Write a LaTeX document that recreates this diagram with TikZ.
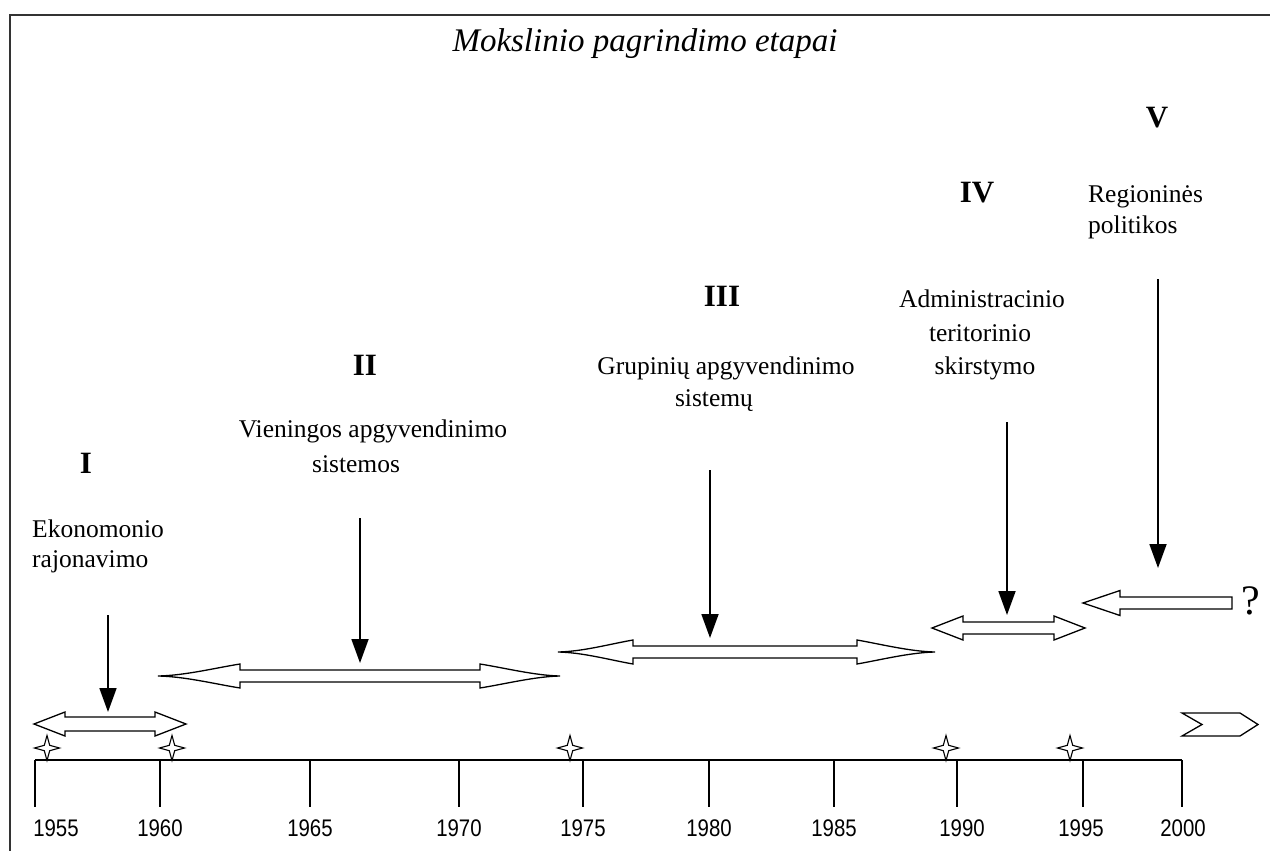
\documentclass[tikz,border=0pt]{standalone}
\usepackage{fontspec}
\usepackage{graphicx}
\setmainfont{Liberation Serif}
\newfontfamily\yearfont{Liberation Sans}
\usetikzlibrary{arrows.meta}
\tikzset{
  body/.style={inner sep=0pt, font=\fontsize{25.5}{30}\selectfont},
  roman/.style={inner sep=0pt, anchor=base, font=\fontsize{31}{36}\selectfont\bfseries},
  yearlbl/.style={inner sep=0pt, anchor=base, font=\fontsize{24}{28}\yearfont},
  blockarrow/.style={draw=black, line width=1.3pt, fill=white, line join=miter},
  pointer/.style={draw=black, line width=1.8pt, -{Triangle[length=24pt,width=17pt]}},
  axisline/.style={draw=black, line width=1.4pt},
  framestyle/.style={draw=black!80, line width=2pt},
  fourstar/.pic={\draw[draw=black, line width=1.1pt, fill=white]
     (0,-12.5) -- (2.7,-2.7) -- (12.5,0) -- (2.7,2.7) -- (0,12.5)
     -- (-2.7,2.7) -- (-12.5,0) -- (-2.7,-2.7) -- cycle;}
}
\begin{document}
\begin{tikzpicture}[x=1pt,y=-1pt]
\useasboundingbox (0,0) rectangle (1270,851);
% frame
\draw[framestyle] (10,851) -- (10,15) -- (1270,15);
% title
\node[anchor=base, inner sep=0pt, font=\fontsize{33}{38}\selectfont\itshape] (title) at (645,52) {Mokslinio pagrindimo etapai};

% roman numerals
\node[roman] (nI) at (86,473) {I};
\node[roman] (nII) at (365,375) {II};
\node[roman] (nIII) at (722,306) {III};
\node[roman] (nIV) at (977,202) {IV};
\node[roman] (nV) at (1157,128) {V};

% stage labels
\node[body, anchor=base west] (ek1) at (32,537) {Ekonomonio};
\node[body, anchor=base west] (ek2) at (32,567) {rajonavimo};
\node[body, anchor=base] (vi1) at (373,437) {Vieningos apgyvendinimo};
\node[body, anchor=base] (vi2) at (356,472) {sistemos};
\node[body, anchor=base] (gr1) at (726,374) {Grupinių apgyvendinimo};
\node[body, anchor=base] (gr2) at (714,406) {sistemų};
\node[body, anchor=base] (ad1) at (982,307) {Administracinio};
\node[body, anchor=base] (ad2) at (980,341) {teritorinio};
\node[body, anchor=base] (ad3) at (985,374) {skirstymo};
\node[body, anchor=base west] (re1) at (1088,202) {Regioninės};
\node[body, anchor=base west] (re2) at (1088,233) {politikos};
\node[inner sep=0pt, anchor=base, font=\fontsize{42}{46}\selectfont] (qm) at (1251,614) {?};

% block arrows
\draw[blockarrow] (34,724) -- (65,712) -- (65,717) -- (155,717) -- (155,712) -- (186,724)
  -- (155,736) -- (155,731) -- (65,731) -- (65,736) -- cycle;
\draw[blockarrow] (158,676) .. controls (185,675.5) and (215,668) .. (240,664) -- (240,670)
  -- (480,670) -- (480,664) .. controls (505,668) and (535,675.5) .. (560,676)
  .. controls (535,676.5) and (505,684) .. (480,688) -- (480,682) -- (240,682) -- (240,688)
  .. controls (215,684) and (185,676.5) .. (158,676) -- cycle;
\draw[blockarrow] (558,652) .. controls (583,651.5) and (610,644) .. (633,640) -- (633,646)
  -- (857,646) -- (857,640) .. controls (880,644) and (910,651.5) .. (935,652)
  .. controls (910,652.5) and (880,660) .. (857,664) -- (857,658) -- (633,658) -- (633,664)
  .. controls (610,660) and (583,652.5) .. (558,652) -- cycle;
\draw[blockarrow] (932,628) -- (963,616) -- (963,622) -- (1054,622) -- (1054,616) -- (1085,628)
  -- (1054,640) -- (1054,634) -- (963,634) -- (963,640) -- cycle;
\draw[blockarrow] (1083,603) -- (1120,590.5) -- (1120,597) -- (1232,597) -- (1232,609)
  -- (1120,609) -- (1120,615.5) -- cycle;
% chevron
\draw[blockarrow] (1182,713) -- (1240,713) -- (1258,724.5) -- (1240,736) -- (1182,736)
  -- (1202,724.5) -- cycle;

% pointers
\coordinate (pIa) at (108,615);  \coordinate (pIb) at (108,712);
\coordinate (pIIa) at (360,518); \coordinate (pIIb) at (360,663);
\coordinate (pIIIa) at (710,470); \coordinate (pIIIb) at (710,638);
\coordinate (pIVa) at (1007,422); \coordinate (pIVb) at (1007,615);
\coordinate (pVa) at (1158,279); \coordinate (pVb) at (1158,568);
\draw[pointer] (pIa) -- (pIb);
\draw[pointer] (pIIa) -- (pIIb);
\draw[pointer] (pIIIa) -- (pIIIb);
\draw[pointer] (pIVa) -- (pIVb);
\draw[pointer] (pVa) -- (pVb);

% axis
\coordinate (axL) at (35,760);
\coordinate (axR) at (1182,760);
\draw[axisline] (axL) -- (axR);
\foreach \tx/\lx/\yr in {35/56/1955,160/160/1960,310/310/1965,459/459/1970,583/583/1975,
  709/709/1980,834/834/1985,957/962/1990,1083/1081/1995,1182/1183/2000}{
  \draw[axisline] (\tx,760) -- (\tx,807);
  \node[yearlbl] (y\yr) at (\lx,836) {\scalebox{0.85}[1]{\yr}};
}
% stars
\foreach \sx in {47,172,570,946,1070}{
  \pic at (\sx,748) {fourstar};
}
\end{tikzpicture}
\end{document}
